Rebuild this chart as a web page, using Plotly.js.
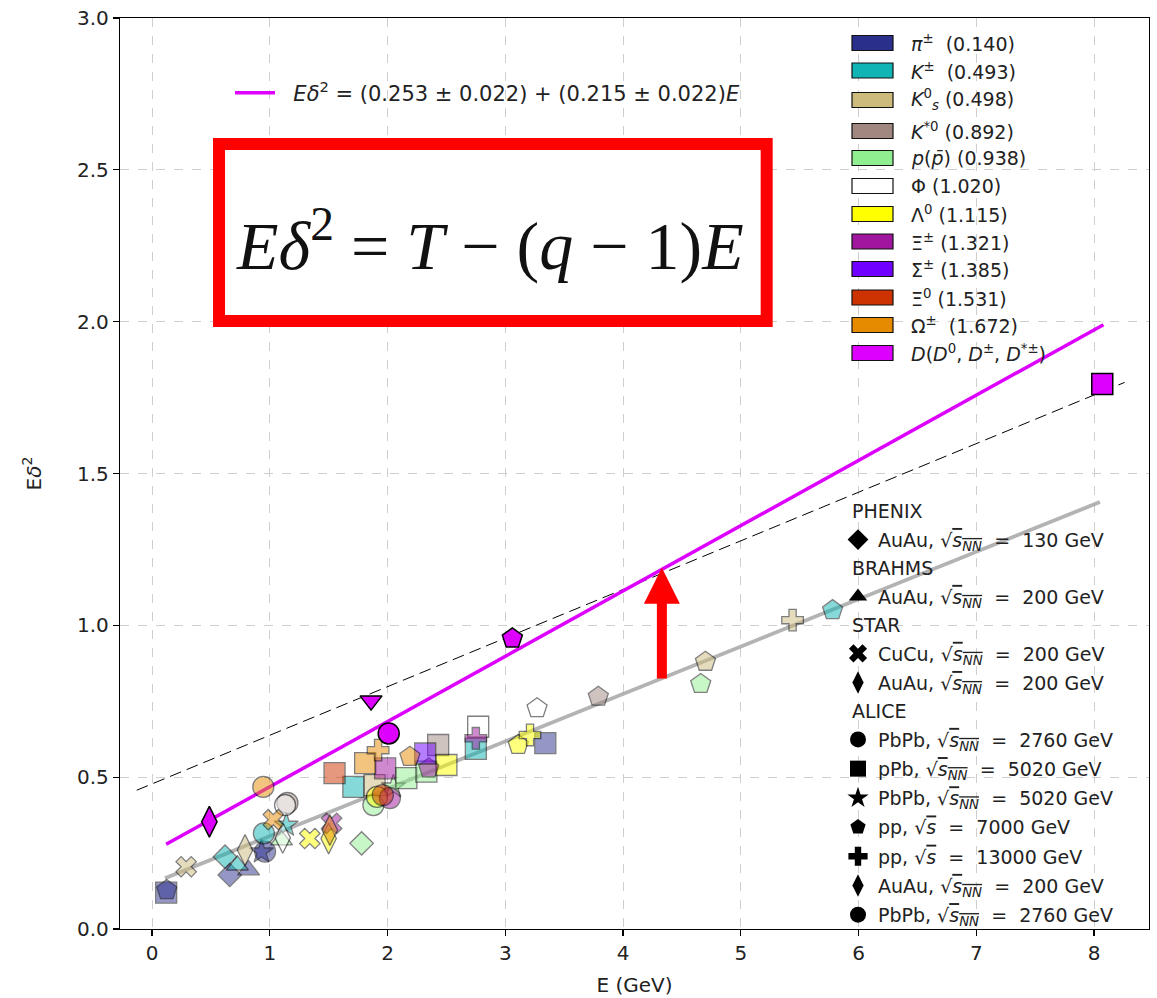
<!DOCTYPE html>
<html>
<head>
<meta charset="utf-8">
<script src="https://cdn.plot.ly/plotly-3.0.1.min.js"></script>
<style>html,body{margin:0;padding:0;background:#fff;}#chart{width:1157px;height:998px;}</style>
</head>
<body>
<div id="chart"></div>
<script>
// ---------- data ----------
const particleNames = ['π±','K±','K0s','K*0','p','Φ','Λ0','Ξ±','Σ±','Ξ0','Ω±','D'];
const particleLabels = [
  '<i>π</i><sup>±</sup>  (0.140)',
  '<i>K</i><sup>±</sup>  (0.493)',
  '<i>K</i><sup>0</sup><sub><i>s</i></sub> (0.498)',
  '<i>K</i><sup>*0</sup> (0.892)',
  '<i>p</i>(<i>p̄</i>) (0.938)',
  'Φ (1.020)',
  'Λ<sup>0</sup> (1.115)',
  'Ξ<sup>±</sup> (1.321)',
  'Σ<sup>±</sup> (1.385)',
  'Ξ<sup>0</sup> (1.531)',
  'Ω<sup>±</sup>  (1.672)',
  '<i>D</i>(<i>D</i><sup>0</sup>, <i>D</i><sup>±</sup>, <i>D</i><sup>*±</sup>)'
];
const particleColors = ['#2b2f8c','#10b4b4','#cdbb7d','#a08880','#90ee90','#ffffff','#ffff00','#a0169e','#7000ff','#cc3300','#e68a00','#dd00ff'];

// experiment keys -> symbol
const expKeys    = ['PHENIX130','BRAHMS200','STARCu200','STARAu200','PbPb2760','pPb5020','PbPb5020','pp7000','pp13000','other'];
const expSymbols = ['diamond','triangle-up','x','diamond-tall','circle','square','star','pentagon','cross','triangle-down'];

// points: particle index, experiment key, E, E*delta^2
const ptParticle = [
  0,0,0,0,0,0,0,
  1,1,1,1,1,1,1,
  2,2,2,2,2,
  3,3,3,
  4,4,4,4,4,4,4,
  5,5,5,5,
  6,6,6,6,6,6,
  7,7,7,7,7,
  8,
  9,9,
  10,10,10,10,10,10,
  11,11,11,11,11
];
const ptExp = [
  'pPb5020','pp7000','PHENIX130','BRAHMS200','PbPb2760','PbPb5020','pPb5020',
  'PHENIX130','BRAHMS200','PbPb2760','PbPb5020','pPb5020','pPb5020','pp7000',
  'STARCu200','STARAu200','pPb5020','pp7000','pp13000',
  'PbPb2760','pPb5020','pp7000',
  'BRAHMS200','PHENIX130','PbPb2760','PbPb5020','pPb5020','pPb5020','pp7000',
  'PbPb2760','STARAu200','pPb5020','pp7000',
  'STARCu200','STARAu200','PbPb2760','pPb5020','pp7000','pp13000',
  'STARCu200','pPb5020','PbPb2760','pp7000','pp13000',
  'pPb5020',
  'pPb5020','PbPb2760',
  'STARCu200','PbPb2760','STARAu200','pPb5020','pp13000','pp7000',
  'STARAu200','other','PbPb2760','pp7000','pPb5020'
];
const ptE = [
  0.12,0.125,0.66,0.82,0.96,0.93,3.34,
  0.62,0.725,0.95,1.14,1.71,2.75,5.78,
  0.29,0.79,1.89,4.70,5.44,
  1.15,2.43,3.79,
  1.10,1.78,1.88,2.05,2.16,2.33,4.66,
  1.13,1.11,2.77,3.27,
  1.34,1.50,1.91,2.50,3.11,3.21,
  1.525,1.98,2.02,2.35,2.75,
  2.32,
  1.55,1.96,
  1.03,0.945,1.51,1.81,1.92,2.19,
  0.487,1.86,2.01,3.06,8.07
];
const ptY = [
  0.120,0.128,0.178,0.194,0.255,0.254,0.612,
  0.238,0.210,0.315,0.342,0.468,0.593,1.050,
  0.205,0.260,0.474,0.880,1.017,
  0.415,0.606,0.765,
  0.293,0.282,0.408,0.468,0.497,0.518,0.807,
  0.408,0.300,0.666,0.727,
  0.298,0.298,0.435,0.540,0.606,0.639,
  0.348,0.529,0.431,0.529,0.628,
  0.578,
  0.513,0.441,
  0.360,0.468,0.326,0.546,0.589,0.567,
  0.353,0.752,0.644,0.957,1.795
];

// lines (end points)
const fitX = [0.12, 8.08];          // magenta fit
const fitY = [0.279, 1.990];
const dashX = [-0.13, 8.26];        // black dashed reference
const dashY = [0.457, 1.800];
const grayX = [0.11, 8.05];         // gray fit through the rest
const grayY = [0.167, 1.406];
const NB = '\u00A0';
const fitLabel = NB+NB+'<i>E</i><i>δ</i><sup>2</sup>'+NB+'='+NB+'(0.253'+NB+'±'+NB+'0.022)'+NB+'+'+NB+'(0.215'+NB+'±'+NB+'0.022)<i>E</i>';

// experiment legend
const expGroupTitles = ['PHENIX','BRAHMS','STAR','ALICE'];
const expGroupTitleRowY = [511, 568, 625, 711];
const expLegendGroups = ['g1','g2','g3','g4','g5','g6','g7','g8','g9','g10','g11'];
const expLegendHasTitle = [true,true,true,false,true,false,false,false,false,false,false];
const expLegendSymbols = ['diamond','triangle-up','x','diamond-tall','circle','square','star','pentagon','cross','diamond-tall','circle'];
const sNN = '√<span style="text-decoration:overline"><i>s</i><sub><i>NN</i></sub></span>';
const sPP = '√<span style="text-decoration:overline"><i>s</i></span>';
const expLegendNames = [
  'AuAu, ' + sNN + NB+' = '+NB + '130 GeV',
  'AuAu, ' + sNN + NB+' = '+NB + '200 GeV',
  'CuCu, ' + sNN + NB+' = '+NB + '200 GeV',
  'AuAu, ' + sNN + NB+' = '+NB + '200 GeV',
  'PbPb, ' + sNN + NB+' = '+NB + '2760 GeV',
  'pPb, ' + sNN + NB+' = '+NB + '5020 GeV',
  'PbPb, ' + sNN + NB+' = '+NB + '5020 GeV',
  'pp, ' + sPP + NB+' = '+NB + '7000 GeV',
  'pp, ' + sPP + NB+' = '+NB + '13000 GeV',
  'AuAu, ' + sNN + NB+' = '+NB + '200 GeV',
  'PbPb, ' + sNN + NB+' = '+NB + '2760 GeV'
];
const formulaText = '<i>E</i><i>δ</i><sup>2</sup> = <i>T</i> − (<i>q</i> − 1)<i>E</i>';

// ---------- layout geometry ----------
const W = 1157, H = 998;
const M = {l:120, r:8, t:18, b:69};
const PW = W - M.l - M.r, PH = H - M.t - M.b;
const pxX = p => (p - M.l) / PW;
const pxY = p => (H - M.b - p) / PH;

const markerSize = {'diamond':18,'triangle-up':19,'x':18,'diamond-tall':22,'circle':21,'square':21,'star':18,'pentagon':21,'cross':18,'triangle-down':19};

// ---------- traces ----------
const traces = [];
traces.push({x:grayX, y:grayY, mode:'lines', line:{color:'rgba(150,150,150,0.72)', width:3.8}, showlegend:false, hoverinfo:'skip'});
traces.push({x:dashX, y:dashY, mode:'lines', line:{color:'#000', width:1, dash:'12px,6px'}, showlegend:false, hoverinfo:'skip'});
traces.push({x:fitX, y:fitY, mode:'lines', line:{color:'#dd00ff', width:3.5}, name:fitLabel, showlegend:true, legend:'legend'});

particleNames.forEach((nm, pi) => {
  const xs=[], ys=[], syms=[], sizes=[];
  ptParticle.forEach((p, k) => {
    if (p !== pi) return;
    const sym = expSymbols[expKeys.indexOf(ptExp[k])];
    xs.push(ptE[k]); ys.push(ptY[k]); syms.push(sym); sizes.push(markerSize[sym]);
  });
  const isD = (nm === 'D');
  traces.push({
    x:xs, y:ys, mode:'markers', name:nm, showlegend:false,
    marker:{color:particleColors[pi], opacity: isD ? 1 : 0.5, symbol:syms, size:sizes,
      line:{color:'#000', width: isD ? 1.5 : 1.3}}
  });
});

expLegendNames.forEach((nm, i) => {
  const t = {x:[null], y:[null], mode:'markers', name:nm, legend:'legend2',
    legendgroup:expLegendGroups[i], showlegend:true,
    marker:{color:'#000', symbol:expLegendSymbols[i], size:16, line:{width:0}}};
  if (expLegendHasTitle[i]) t.legendgrouptitle = {text:NB, font:{size:19, color:'#222', family:'DejaVu Sans'}};
  traces.push(t);
});

// ---------- particle legend (patches) ----------
const rowY = [43,70.5,100,131,158,186,214,241.5,269,297.5,325,353];
const shapes = [];
const annotations = [];
particleNames.forEach((nm, i) => {
  shapes.push({type:'rect', xref:'paper', yref:'paper', x0:pxX(852), x1:pxX(893), y0:pxY(rowY[i]+7.5), y1:pxY(rowY[i]-7.5),
    fillcolor:particleColors[i], line:{color:'#111', width:1.2}});
  annotations.push({xref:'paper', yref:'paper', x:pxX(909), y:pxY(rowY[i]), xanchor:'left', yanchor:'middle',
    text:particleLabels[i], showarrow:false, font:{family:'DejaVu Sans', size:19, color:'#222'}});
});
// experiment group titles
expGroupTitles.forEach((t, i) => {
  annotations.push({xref:'paper', yref:'paper', x:pxX(850), y:pxY(expGroupTitleRowY[i]), xanchor:'left', yanchor:'middle',
    text:t, showarrow:false, font:{family:'DejaVu Sans', size:19, color:'#222'}});
});

// red formula box
shapes.push({type:'rect', xref:'x', yref:'y', x0:0.569, x1:5.22, y0:2.002, y1:2.585,
  fillcolor:'#fff', line:{color:'#ff0000', width:12}, layer:'above'});
annotations.push({xref:'x', yref:'y', x:2.87, y:2.265, text:formulaText, showarrow:false,
  font:{family:'Liberation Serif', size:68, color:'#111'}});

// red arrow
annotations.push({xref:'x', yref:'y', axref:'x', ayref:'y', x:4.33, y:1.19, ax:4.33, ay:0.82,
  text:'', showarrow:true, arrowhead:2, arrowsize:0.72, arrowwidth:10, arrowcolor:'#ff0000', standoff:0, startstandoff:0});

const axisCommon = {
  showline:true, linecolor:'#000', linewidth:1.2, mirror:true,
  ticks:'outside', ticklen:6, tickcolor:'#000', tickwidth:1.2,
  showgrid:true, gridcolor:'#cfcfcf', gridwidth:1, griddash:'dash',
  zeroline:false, tickfont:{family:'DejaVu Sans', size:20, color:'#222'}
};

const layout = {
  width:W, height:H, margin:M,
  paper_bgcolor:'#fff', plot_bgcolor:'#fff',
  font:{family:'DejaVu Sans', color:'#222'},
  xaxis:Object.assign({}, axisCommon, {range:[-0.272, 8.467], tickvals:[0,1,2,3,4,5,6,7,8],
    title:{text:'E (GeV)', font:{family:'DejaVu Sans', size:20, color:'#222'}, standoff:13}}),
  yaxis:Object.assign({}, axisCommon, {range:[0,3], tickvals:[0,0.5,1,1.5,2,2.5,3], tickformat:'.1f',
    title:{text:'E<i>δ</i><sup>2</sup>', font:{family:'DejaVu Sans', size:20, color:'#222'}, standoff:30}}),
  legend:{x:pxX(230), y:pxY(93), xanchor:'left', yanchor:'middle', bgcolor:'rgba(0,0,0,0)',
    font:{family:'DejaVu Sans', size:21, color:'#222'}, itemwidth:40},
  legend2:{x:pxX(838), y:pxY(493), xanchor:'left', yanchor:'top', bgcolor:'rgba(0,0,0,0)',
    font:{family:'DejaVu Sans', size:19, color:'#222'}, tracegroupgap:1.5, traceorder:'grouped', itemsizing:'trace'},
  shapes:shapes, annotations:annotations, showlegend:true
};

Plotly.newPlot('chart', traces, layout, {displayModeBar:false, staticPlot:true});
</script>
</body>
</html>
